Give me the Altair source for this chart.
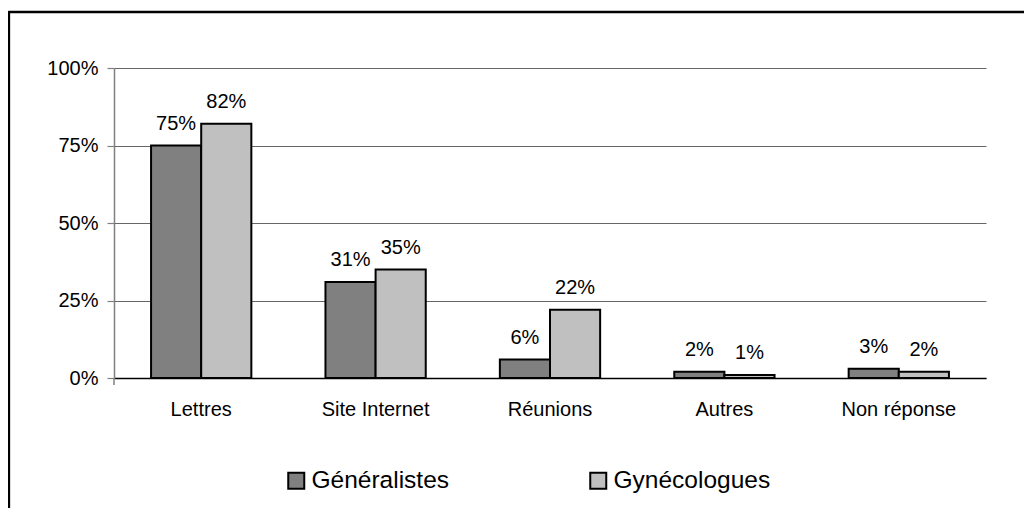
import altair as alt
import pandas as pd

categories = ["Lettres", "Site Internet", "Réunions", "Autres", "Non réponse"]
series = ["Généralistes", "Gynécologues"]
generalistes = [0.75, 0.31, 0.06, 0.02, 0.03]
gynecologues = [0.82, 0.35, 0.22, 0.01, 0.02]
y_ticks = [0, 0.25, 0.5, 0.75, 1.0]
colors = ["#808080", "#C0C0C0"]

rows = []
for i, c in enumerate(categories):
    rows.append({"cat": c, "group": series[0], "value": generalistes[i]})
    rows.append({"cat": c, "group": series[1], "value": gynecologues[i]})
df = pd.DataFrame(rows)

FONT = "Liberation Sans"
W, H = 872, 310
PAD = {"left": 106, "top": 60, "right": 38, "bottom": 130}

x_enc = alt.X("cat:N", sort=categories, title=None,
              scale=alt.Scale(paddingInner=0.425, paddingOuter=0.2125),
              axis=alt.Axis(labelAngle=0, ticks=False, domainColor="black",
                            domainWidth=1.5, labelPadding=21, labelFontSize=20,
                            labelFont=FONT, labelColor="black", grid=False))
xo_enc = alt.XOffset("group:N", sort=series, scale=alt.Scale(paddingInner=0, paddingOuter=0))
y_enc = alt.Y("value:Q", title=None,
              scale=alt.Scale(domain=[0, 1], nice=False),
              axis=alt.Axis(values=y_ticks, format=".0%", grid=True, gridColor="#666",
                            gridWidth=1, domainColor="#808080", domainWidth=1.5,
                            tickColor="#808080", tickSize=7, tickWidth=1.2,
                            labelPadding=9, labelFontSize=20, labelFont=FONT,
                            labelColor="black"))

base = alt.Chart(df)
bars = base.mark_bar(stroke="black", strokeWidth=2).encode(
    x=x_enc, xOffset=xo_enc, y=y_enc,
    color=alt.Color("group:N", sort=series,
                    scale=alt.Scale(domain=series, range=colors),
                    legend=alt.Legend(title=None, orient="none", direction="horizontal",
                                      legendX=170, legendY=400, symbolType="square",
                                      symbolSize=256, symbolStrokeColor="black",
                                      symbolStrokeWidth=2, labelFontSize=24.5,
                                      labelFont=FONT, labelColor="black",
                                      labelOffset=3, columnPadding=136, padding=0)),
)
labels = base.mark_text(baseline="alphabetic", dy=-15.5, fontSize=20, font=FONT,
                        color="black").encode(
    x=alt.X("cat:N", sort=categories), xOffset=alt.XOffset("group:N", sort=series),
    y="value:Q", text=alt.Text("value:Q", format=".0%"),
)

frame_data = alt.Data(values=[{"k": 1}])
top_line = alt.Chart(frame_data).mark_rule(color="black", strokeWidth=2.3).encode(
    x=alt.value(-105.5), x2=alt.value(W + PAD["right"]), y=alt.value(-56)
)
left_line = alt.Chart(frame_data).mark_rule(color="black", strokeWidth=2.3).encode(
    x=alt.value(-105), y=alt.value(-57), y2=alt.value(H + PAD["bottom"])
)
axis_stub = alt.Chart(frame_data).mark_rule(color="#808080", strokeWidth=1.5).encode(
    x=alt.value(0), y=alt.value(H), y2=alt.value(H + 7)
)

chart = alt.layer(bars, labels, top_line, left_line, axis_stub).properties(
    width=W, height=H, padding=PAD, autosize=alt.AutoSizeParams(type="none"),
    background="white",
).configure_view(stroke=None)

chart.save("out.html", embed_options={"renderer": "svg", "actions": False})
